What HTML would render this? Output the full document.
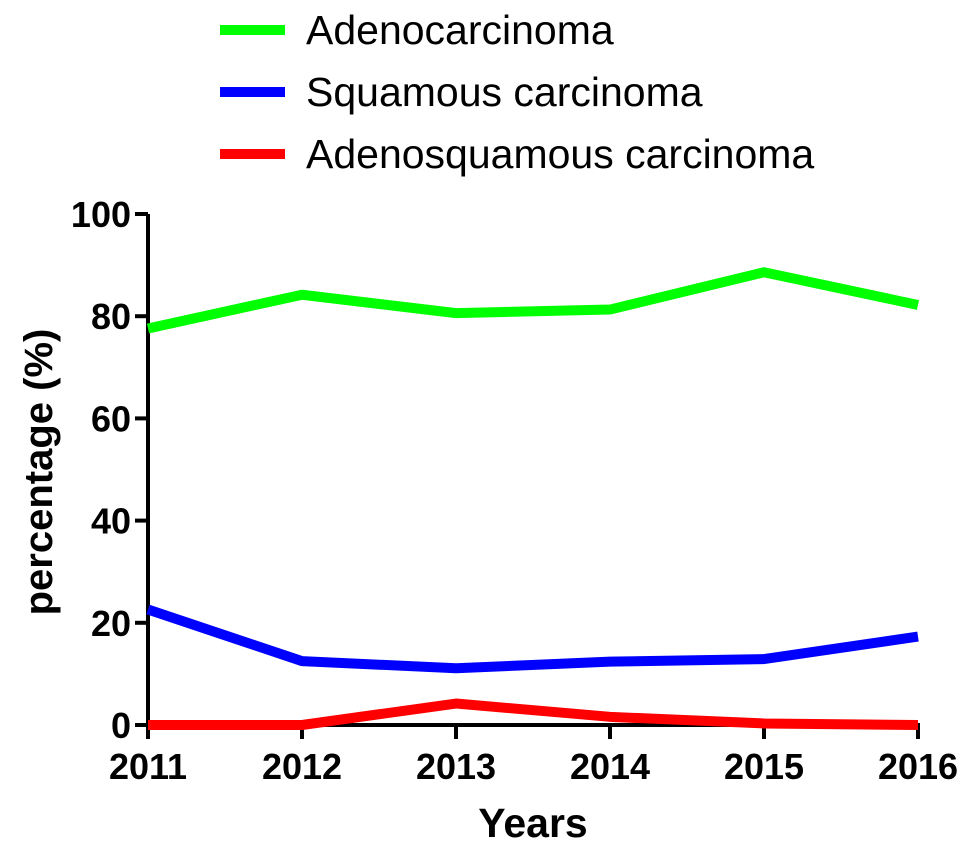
<!DOCTYPE html>
<html><head><meta charset="utf-8"><style>
body{margin:0;background:#fff;}
svg{display:block;font-family:"Liberation Sans",Arial,sans-serif;}
</style></head><body>
<svg id="c" width="969" height="849">
<g id="legend"></g>
<g id="axes"></g>
<g id="series"></g>
</svg>
<script>
const years=["2011","2012","2013","2014","2015","2016"];
const adeno=[77.6,84.2,80.6,81.3,88.6,82.2];
const squamous=[22.6,12.5,11.1,12.4,12.9,17.3];
const adenosq=[0,0,4.2,1.6,0.3,0];
const yTicks=[0,20,40,60,80,100];
const names=["Adenocarcinoma","Squamous carcinoma","Adenosquamous carcinoma"];
const colors=["#00ff00","#0000ff","#ff0000"];
const NS="http://www.w3.org/2000/svg";
const X0=148,X1=918,Y0=725,Y100=214;
const x=i=>X0+(X1-X0)*i/(years.length-1);
const y=v=>Y0+(Y100-Y0)*v/100;
function mk(tag,attrs,parent,txt){const e=document.createElementNS(NS,tag);for(const k in attrs)e.setAttribute(k,attrs[k]);if(txt!==undefined)e.textContent=txt;parent.appendChild(e);return e;}
const axes=document.getElementById('axes'),ser=document.getElementById('series'),leg=document.getElementById('legend');
let e;
e=mk('line',{x1:X0,y1:Y100,x2:X0,y2:Y0+12,stroke:'#000','stroke-width':4},axes);


e=mk('line',{x1:X0-2,y1:Y0,x2:X1+2,y2:Y0,stroke:'#000','stroke-width':4},axes);


yTicks.forEach(t=>{
 mk('line',{x1:X0-13,y1:y(t),x2:X0,y2:y(t),stroke:'#000','stroke-width':4},axes);
 e=mk('text',{x:X0-17,y:y(t)+13,'text-anchor':'end','font-size':36,'font-weight':'bold'},axes,t);
 
 
});
years.forEach((yr,i)=>{
 mk('line',{x1:x(i),y1:Y0,x2:x(i),y2:Y0+14,stroke:'#000','stroke-width':4},axes);
 e=mk('text',{x:x(i),y:Y0+54,'text-anchor':'middle','font-size':36,'font-weight':'bold'},axes,yr);
 
 
});
e=mk('text',{x:533,y:837,'text-anchor':'middle','font-size':41,'font-weight':'bold'},axes,'Years');


e=mk('text',{x:0,y:0,transform:'translate(52,472) rotate(-90)','text-anchor':'middle','font-size':40,'font-weight':'bold'},axes,'percentage (%)');


[adeno,squamous,adenosq].forEach((s,k)=>{
 const pts=s.map((v,i)=>x(i)+','+y(v)).join(' ');
 e=mk('polyline',{points:pts,fill:'none',stroke:colors[k],'stroke-width':10,'stroke-linejoin':'round'},ser);
 
 
 const ly=30+k*62;
 mk('line',{x1:220,y1:ly,x2:285,y2:ly,stroke:colors[k],'stroke-width':10},leg);
 e=mk('text',{x:306,y:ly+14,'font-size':41},leg,names[k]);
 
 
});
</script>
</body></html>
